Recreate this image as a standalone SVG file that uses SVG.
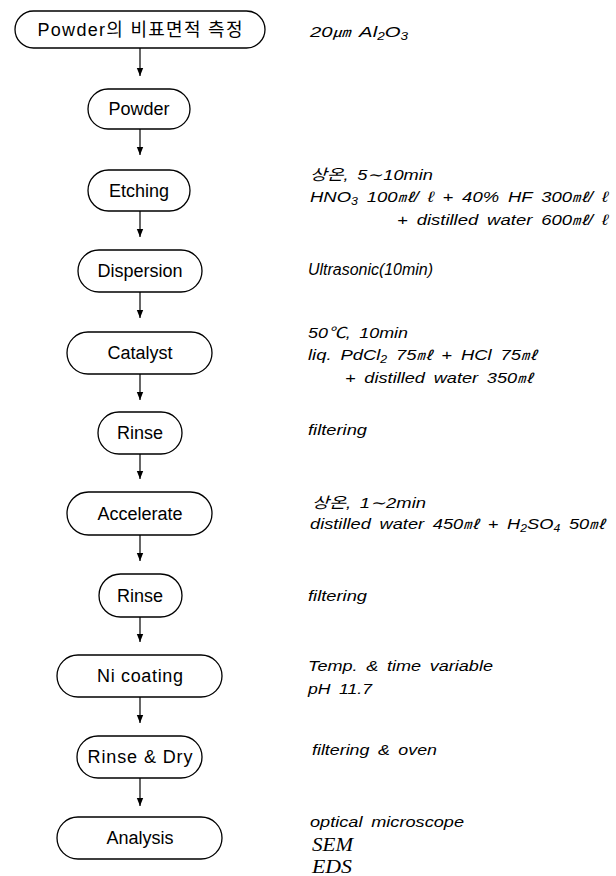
<svg xmlns="http://www.w3.org/2000/svg" width="616" height="876" viewBox="0 0 616 876">
<style>
.box{fill:#fff;stroke:#000;stroke-width:1.3}
.lbl{font-family:"Liberation Sans","Noto Sans CJK KR",sans-serif;font-size:18px;fill:#000;text-anchor:middle}
.note{font-family:"Liberation Sans","Noto Sans CJK KR",sans-serif;font-size:15px;font-style:italic;fill:#000;word-spacing:3px}
.serif{font-family:"Liberation Serif",serif;font-size:18px;font-style:italic;fill:#000}
.sub{font-size:10px}
.u{font-size:13px}
.con{stroke:#000;stroke-width:1.2;fill:none;marker-end:url(#ah)}
</style>
<defs>
<marker id="ah" markerUnits="userSpaceOnUse" markerWidth="8" markerHeight="10" refX="10" refY="4" orient="auto" viewBox="0 0 10 8">
<path d="M0,0 L10,4 L0,8 Z" fill="#000"/>
</marker>
</defs>
<g id="connectors">
<line class="con" x1="140" y1="48" x2="140" y2="76"/>
<line class="con" x1="140" y1="129" x2="140" y2="155"/>
<line class="con" x1="140" y1="211" x2="140" y2="237"/>
<line class="con" x1="140" y1="292" x2="140" y2="318"/>
<line class="con" x1="140" y1="374" x2="140" y2="400"/>
<line class="con" x1="140" y1="454" x2="140" y2="479"/>
<line class="con" x1="140" y1="535" x2="140" y2="561"/>
<line class="con" x1="140" y1="617" x2="140" y2="642"/>
<line class="con" x1="140" y1="697" x2="140" y2="723"/>
<line class="con" x1="140" y1="778" x2="140" y2="806"/>
</g>
<g id="n1"><rect class="box" x="15" y="11" width="250" height="37" rx="18.5"/><text class="lbl" x="140" y="36" textLength="205" lengthAdjust="spacing">Powder의 비표면적 측정</text></g>
<g id="n2"><rect class="box" x="88" y="89" width="102" height="40" rx="20"/><text class="lbl" x="139" y="115">Powder</text></g>
<g id="n3"><rect class="box" x="88" y="170" width="102" height="41" rx="20.5"/><text class="lbl" x="139" y="197">Etching</text></g>
<g id="n4"><rect class="box" x="78" y="250" width="124" height="42" rx="21"/><text class="lbl" x="140" y="277">Dispersion</text></g>
<g id="n5"><rect class="box" x="67" y="332" width="145" height="42" rx="21"/><text class="lbl" x="140" y="359">Catalyst</text></g>
<g id="n6"><rect class="box" x="98" y="412" width="84" height="42" rx="21"/><text class="lbl" x="140" y="439">Rinse</text></g>
<g id="n7"><rect class="box" x="67" y="492" width="145" height="43" rx="21.5"/><text class="lbl" x="140" y="520">Accelerate</text></g>
<g id="n8"><rect class="box" x="99" y="574" width="83" height="43" rx="21.5"/><text class="lbl" x="140" y="602">Rinse</text></g>
<g id="n9"><rect class="box" x="57" y="655" width="165" height="42" rx="21"/><text class="lbl" x="140" y="682" textLength="86" lengthAdjust="spacing">Ni coating</text></g>
<g id="n10"><rect class="box" x="77" y="736" width="125" height="42" rx="21"/><text class="lbl" x="140" y="763" textLength="105" lengthAdjust="spacing">Rinse &amp; Dry</text></g>
<g id="n11"><rect class="box" x="57" y="817" width="165" height="42" rx="21"/><text class="lbl" x="140" y="844">Analysis</text></g>
<g id="notes">
<text class="note" x="310" y="37" textLength="98" lengthAdjust="spacingAndGlyphs">20<tspan class="u">㎛</tspan> Al<tspan class="sub" dy="3">2</tspan><tspan dy="-3">O</tspan><tspan class="sub" dy="3">3</tspan></text>
<text class="note" x="310" y="180" textLength="123" lengthAdjust="spacingAndGlyphs">상온, 5∼10min</text>
<text class="note" x="310" y="202" textLength="298" lengthAdjust="spacingAndGlyphs">HNO<tspan class="sub" dy="3">3</tspan><tspan dy="-3"> 100</tspan><tspan class="u">㎖</tspan>/ ℓ + 40% HF 300<tspan class="u">㎖</tspan>/ ℓ</text>
<text class="note" x="397" y="225" textLength="211" lengthAdjust="spacingAndGlyphs">+ distilled water 600<tspan class="u">㎖</tspan>/ ℓ</text>
<text class="note" x="308" y="275" textLength="125" lengthAdjust="spacingAndGlyphs" style="font-size:16px">Ultrasonic(10min)</text>
<text class="note" x="308" y="338" textLength="100" lengthAdjust="spacingAndGlyphs">50℃, 10min</text>
<text class="note" x="308" y="360" textLength="229" lengthAdjust="spacingAndGlyphs">liq. PdCl<tspan class="sub" dy="3">2</tspan><tspan dy="-3"> 75</tspan><tspan class="u">㎖</tspan> + HCl 75<tspan class="u">㎖</tspan></text>
<text class="note" x="345" y="383" textLength="188" lengthAdjust="spacingAndGlyphs">+ distilled water 350<tspan class="u">㎖</tspan></text>
<text class="note" x="308" y="435" textLength="59" lengthAdjust="spacingAndGlyphs">filtering</text>
<text class="note" x="312" y="508" textLength="114" lengthAdjust="spacingAndGlyphs">상온, 1∼2min</text>
<text class="note" x="310" y="529" textLength="295" lengthAdjust="spacingAndGlyphs">distilled water 450<tspan class="u">㎖</tspan> + H<tspan class="sub" dy="3">2</tspan><tspan dy="-3">SO</tspan><tspan class="sub" dy="3">4</tspan><tspan dy="-3"> 50</tspan><tspan class="u">㎖</tspan></text>
<text class="note" x="308" y="601" textLength="59" lengthAdjust="spacingAndGlyphs">filtering</text>
<text class="note" x="308" y="671" textLength="185" lengthAdjust="spacingAndGlyphs">Temp. &amp; time variable</text>
<text class="note" x="308" y="694" textLength="64" lengthAdjust="spacingAndGlyphs">pH 11.7</text>
<text class="note" x="312" y="755" textLength="125" lengthAdjust="spacingAndGlyphs">filtering &amp; oven</text>
<text class="note" x="310" y="827" textLength="154" lengthAdjust="spacingAndGlyphs">optical microscope</text>
<text class="serif" x="312" y="851" textLength="41" lengthAdjust="spacingAndGlyphs">SEM</text>
<text class="serif" x="312" y="873" textLength="40" lengthAdjust="spacingAndGlyphs">EDS</text>
</g>
</svg>
